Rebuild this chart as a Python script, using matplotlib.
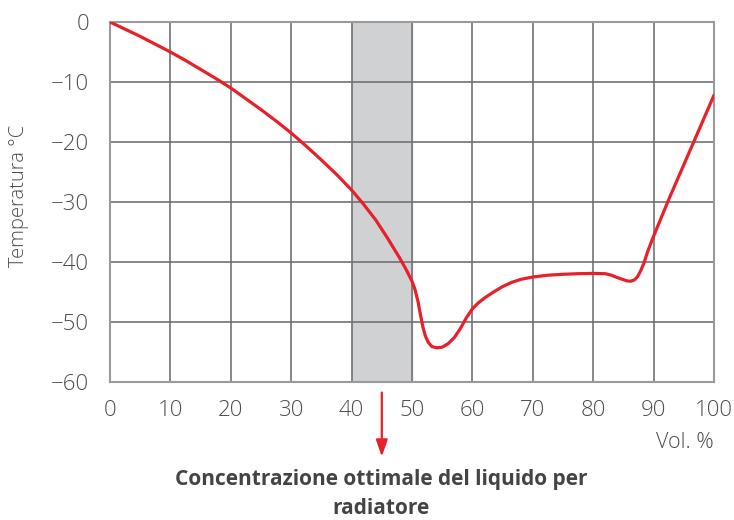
"""Freezing point of coolant vs concentration (Vol. %)."""
import matplotlib

matplotlib.use("Agg")
import matplotlib.pyplot as plt

# %% Data
vol_pct = [0, 2.5, 5, 7.5, 10, 12.5, 15, 17.5, 20, 22.5, 25, 27.5, 30, 32.5, 35, 37.5, 40,
           42, 44, 46, 48, 49, 50, 50.5, 51, 51.4, 51.8, 52.2, 52.7, 53.3, 54.1, 55, 56, 57,
           58, 59, 60, 61, 62, 63.5, 65, 66.5, 68, 70, 72.5, 75, 77.5, 80, 82, 83, 84, 85,
           85.6, 86.2, 86.8, 87.3, 87.8, 88.4, 89, 90, 92.5, 95, 97.5, 100]
temp_c = [0, -1.2, -2.4, -3.7, -5, -6.4, -7.9, -9.4, -11, -12.8, -14.6, -16.5, -18.5, -20.7,
          -23, -25.4, -28, -30.4, -33, -36.1, -39.4, -41.2, -43.2, -44.6, -46.6, -48.8, -50.8,
          -52.3, -53.4, -54.1, -54.3, -54.2, -53.6, -52.6, -51.1, -49.3, -47.8, -46.8, -46,
          -45, -44.1, -43.4, -42.9, -42.5, -42.2, -42.05, -41.95, -41.9, -41.95, -42.2, -42.6,
          -42.95, -43.15, -43.2, -43, -42.5, -41.6, -40.2, -38.3, -35.7, -29.6, -23.8, -18,
          -12.2]
ticks_x = list(range(0, 101, 10))
ticks_y = list(range(0, -61, -10))
optimal_band = (40, 50)

RED = "#e8202a"
TXT = "#4d4d4d"

fig = plt.figure(figsize=(7.34, 5.2), dpi=100)
ax = fig.add_axes([110 / 734, 1 - 382 / 520, 604 / 734, 360 / 520])

ax.axvspan(*optimal_band, color="#d0d1d3", zorder=0)
ax.plot(vol_pct, temp_c, color=RED, lw=2.3, zorder=3, solid_capstyle="round",
        solid_joinstyle="round")

ax.set_xlim(0, 100)
ax.set_ylim(-60, 0)
ax.set_xticks(ticks_x)
ax.set_yticks(ticks_y)
ax.set_yticklabels([f"{t}".replace("-", "\u2212") for t in ticks_y])
ax.grid(True, color="#727272", lw=1.2, zorder=1)
ax.set_axisbelow(True)
for s in ax.spines.values():
    s.set_color("#9a9a9a")
    s.set_linewidth(1.5)
ax.tick_params(axis="y", length=0, pad=15, labelsize=16, labelcolor=TXT)
ax.tick_params(axis="x", length=0, pad=13, labelsize=16, labelcolor=TXT)
for lab in ax.get_xticklabels() + ax.get_yticklabels():
    lab.set_family("Open Sans")
    lab.set_fontweight("light")

fig.text(19 / 734, 1 - 196 / 520, "Temperatura °C", rotation=90, ha="center", va="center",
         family="Open Sans", fontweight="light", fontsize=14.5, color=TXT)
fig.text(714 / 734, 1 - 443 / 520, "Vol. %", ha="right", va="center", family="Open Sans",
         fontweight="light", fontsize=15.5, color=TXT)

# arrow pointing to optimal concentration
ax.annotate("", xy=(45, -72.9), xytext=(45, -61.3), xycoords="data", annotation_clip=False,
            arrowprops=dict(arrowstyle="-|>,head_width=0.35,head_length=1.0", color=RED, lw=1.6))

fig.text(381 / 734, 1 - 494 / 520, "Concentrazione ottimale del liquido per\nradiatore",
         ha="center", va="center", family="Open Sans", fontweight="bold", fontsize=15,
         color="#444444", linespacing=1.45)

fig.savefig("out.png", dpi=100)
